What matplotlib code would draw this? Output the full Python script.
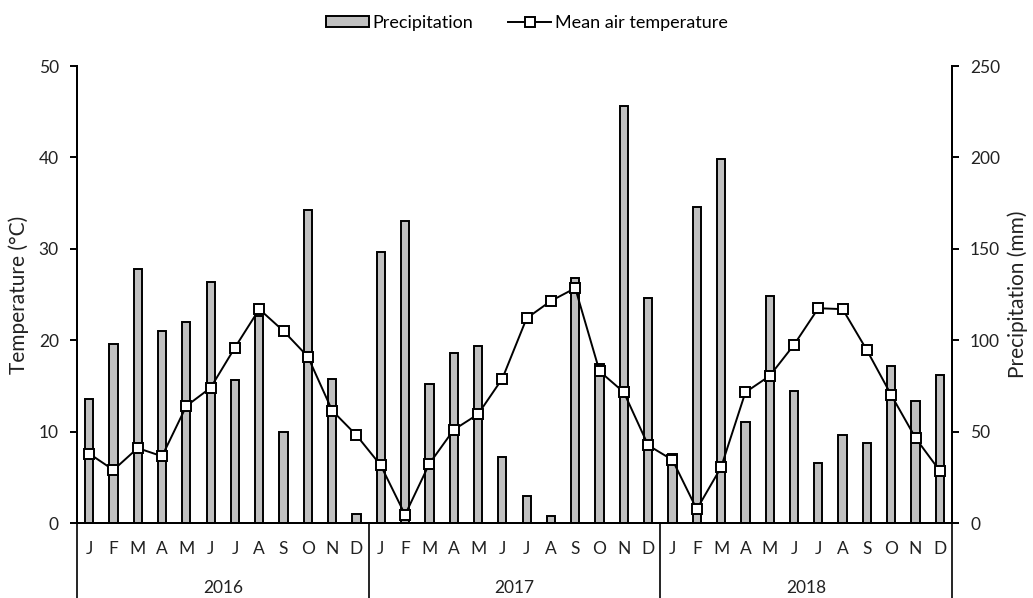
import numpy as np
import matplotlib
matplotlib.use("Agg")
import matplotlib.pyplot as plt
from matplotlib.lines import Line2D
from matplotlib.patches import Patch

plt.rcParams['font.family'] = ['Lato', 'DejaVu Sans']

# monthly data 2016-2018
years = ["2016", "2017", "2018"]
months = ["J", "F", "M", "A", "M", "J", "J", "A", "S", "O", "N", "D"]

temp_2016 = [7.6, 5.8, 8.2, 7.3, 12.8, 14.8, 19.2, 23.4, 21.0, 18.2, 12.3, 9.6]
temp_2017 = [6.3, 0.9, 6.5, 10.2, 11.9, 15.8, 22.4, 24.3, 25.7, 16.6, 14.3, 8.5]
temp_2018 = [6.9, 1.5, 6.1, 14.3, 16.1, 19.5, 23.5, 23.4, 18.9, 14.0, 9.3, 5.7]

prec_2016 = [68, 98, 139, 105, 110, 132, 78, 113, 50, 171, 79, 5]
prec_2017 = [148, 165, 76, 93, 97, 36, 15, 4, 134, 87, 228, 123]
prec_2018 = [38, 173, 199, 55, 124, 72, 33, 48, 44, 86, 67, 81]

temp = temp_2016 + temp_2017 + temp_2018
prec = prec_2016 + prec_2017 + prec_2018
x = np.arange(len(temp))

txt = "#222222"

fig = plt.figure(figsize=(10.33, 5.98), dpi=100)
ax = fig.add_axes([0.0745, 0.1254, 0.8471, 0.7642])
ax2 = ax.twinx()

# bars on the right axis, line on the left axis drawn on top
ax2.bar(x, prec, width=0.34, color="#c0c0c0", edgecolor="black", linewidth=1.4)
ax.set_zorder(ax2.get_zorder() + 1)
ax.patch.set_visible(False)
ax.plot(x, temp, color="black", lw=1.4, marker="s", markersize=7.5,
        markerfacecolor="white", markeredgecolor="black", markeredgewidth=1.4)

ax.set_xlim(-0.5, len(temp) - 0.5)
ax.set_ylim(0, 50)
ax.set_yticks(range(0, 51, 10))
ax2.set_ylim(0, 250)
ax2.set_yticks(range(0, 251, 50))

for a in (ax, ax2):
    a.spines['top'].set_visible(False)
    for s in ('left', 'right', 'bottom'):
        a.spines[s].set_linewidth(1.4)
    a.tick_params(axis='y', length=5, width=1.4, labelsize=12.5, pad=8,
                  labelcolor=txt)

ax.set_xticks(x)
ax.set_xticklabels(months * 3, fontsize=12.5, color=txt)
ax.tick_params(axis='x', length=0, pad=13)

ax.set_ylabel("Temperature (°C)", fontsize=15, color=txt, labelpad=7)
ax2.set_ylabel("Precipitation (mm)", fontsize=15, color=txt, labelpad=5)

# year group separators and labels below the axis
for b in [-0.5, 11.5, 23.5, 35.5]:
    ax.plot([b, b], [0, -9.6], color="black", lw=1.2, clip_on=False)
for i, yr in enumerate(years):
    ax.text(i * 12 + 5.5, -7.1, yr, ha="center", va="center", fontsize=12.5,
            color=txt, clip_on=False)

handles = [Patch(facecolor="#c0c0c0", edgecolor="black", linewidth=1.4),
           Line2D([], [], color="black", lw=1.4, marker="s", markersize=7.5,
                  markerfacecolor="white", markeredgecolor="black",
                  markeredgewidth=1.4)]
fig.legend(handles, ["Precipitation", "Mean air temperature"], loc="center",
           bbox_to_anchor=(0.51, 0.962), ncol=2, frameon=False, fontsize=13,
           handlelength=2.4, handleheight=0.55, columnspacing=1.9,
           handletextpad=0.2)

fig.savefig("out.png", dpi=100)
